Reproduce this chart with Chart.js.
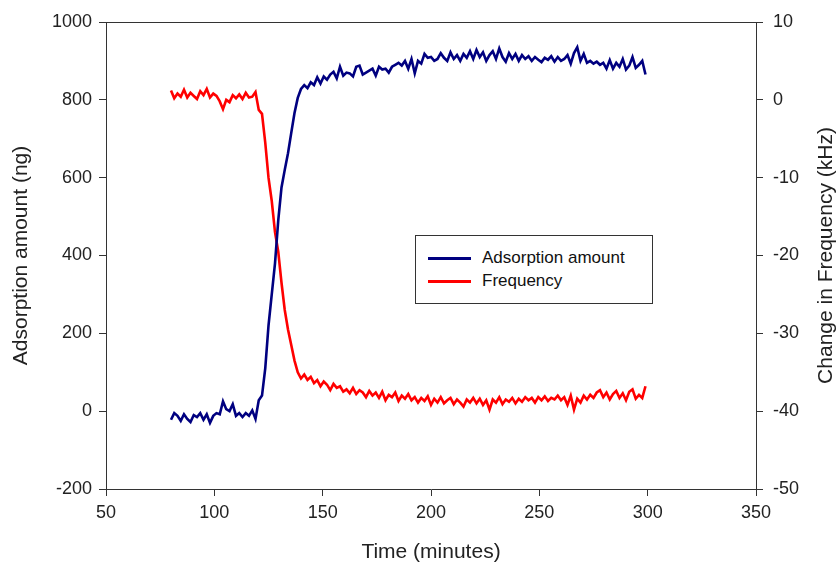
<!DOCTYPE html>
<html><head><meta charset="utf-8">
<script src="https://cdn.jsdelivr.net/npm/chart.js@4/dist/chart.umd.min.js"></script>
<style>
html,body{margin:0;padding:0;background:#fff;}
#wrap{position:relative;width:838px;height:565px;}
#legend{position:absolute;left:415px;top:235px;width:236px;height:67px;border:1px solid #333;background:#fff;font-family:"Liberation Sans",Arial,sans-serif;font-size:17px;color:#111;}
.row{position:absolute;left:0;width:236px;height:20px;line-height:20px;}
.sw{position:absolute;left:12px;top:9px;width:43px;height:3px;}
.lab{position:absolute;left:66px;top:0;white-space:nowrap;}
</style></head>
<body>
<div id="wrap">
<canvas id="c" width="838" height="565"></canvas>
<div id="legend">
  <div class="row" style="top:12px"><div class="sw" style="background:#000080"></div><div class="lab">Adsorption amount</div></div>
  <div class="row" style="top:35px"><div class="sw" style="background:#ff0000"></div><div class="lab">Frequency</div></div>
</div>
</div>
<script>
// Time (minutes)
const times = [
  80, 81.5, 83, 84.5, 86, 87.5, 89, 90.5, 92, 93.5,
  95, 96.5, 98, 99.5, 101, 102.5, 104, 105.5, 107, 108.5,
  110, 111.5, 113, 114.5, 116, 117.5, 119, 120.5, 122, 123.5,
  125, 126.5, 128, 129.5, 131, 132.5, 134, 135.5, 137, 138.5,
  140, 141.5, 143, 144.5, 146, 147.5, 149, 150.5, 152, 153.5,
  155, 156.5, 158, 159.5, 161, 162.5, 164, 165.5, 167, 168.5,
  170, 171.5, 173, 174.5, 176, 177.5, 179, 180.5, 182, 183.5,
  185, 186.5, 188, 189.5, 191, 192.5, 194, 195.5, 197, 198.5,
  200, 201.5, 203, 204.5, 206, 207.5, 209, 210.5, 212, 213.5,
  215, 216.5, 218, 219.5, 221, 222.5, 224, 225.5, 227, 228.5,
  230, 231.5, 233, 234.5, 236, 237.5, 239, 240.5, 242, 243.5,
  245, 246.5, 248, 249.5, 251, 252.5, 254, 255.5, 257, 258.5,
  260, 261.5, 263, 264.5, 266, 267.5, 269, 270.5, 272, 273.5,
  275, 276.5, 278, 279.5, 281, 282.5, 284, 285.5, 287, 288.5,
  290, 291.5, 293, 294.5, 296, 297.5, 299
];
// Adsorption amount (ng)
const adsorption = [
  -22, -5, -12, -25, -8, -20, -28, -10, -15, -5,
  -22, -8, -30, -12, -5, -8, 25, 5, 0, 18,
  -12, -5, -15, -5, -12, 2, -20, 28, 40, 110,
  220, 300, 380, 490, 575, 620, 663, 715, 766, 805,
  828, 838, 830, 845, 838, 858, 842, 860, 852, 865,
  872, 855, 885, 862, 870, 868, 860, 885, 888, 865,
  870, 875, 880, 862, 885, 878, 880, 870, 885, 890,
  895, 888, 900, 880, 905, 868, 900, 893, 918, 908,
  910, 900, 905, 920, 908, 900, 922, 905, 915, 900,
  918, 908, 925, 905, 928, 910, 922, 900, 915, 925,
  905, 932, 910, 898, 920, 905, 918, 900, 915, 905,
  912, 900, 910, 903, 897, 908, 903, 912, 898, 910,
  900, 905, 915, 893, 920, 935, 900, 918, 895, 900,
  893, 898, 890, 895, 880, 902, 880, 895, 885, 905,
  878, 888, 910, 882, 890, 900, 865
];
// Change in frequency (kHz)
const frequency = [
  1.2, 0.2, 0.8, 0.4, 1.3, 0.3, 0.9, 0.5, 0.1, 1.1,
  0.6, 1.4, 0.3, 0.8, 0.5, -0.2, -1.2, 0.0, -0.3, 0.6,
  0.2, 0.7, 0.1, 0.9, 0.3, 0.4, 1.0, -1.3, -1.8, -5.5,
  -10, -13, -17, -19.5, -23.5, -27, -29.5, -31.5, -33.5, -35,
  -35.8, -35.3, -36, -35.6, -36.4, -36.0, -36.8, -36.2, -36.6, -37.3,
  -36.5, -37.0, -36.8, -37.5, -37.2, -37.7, -37.0, -37.8, -37.3, -37.6,
  -38.2, -37.4, -38.0, -37.6, -38.3, -37.5, -38.6, -37.9, -38.2, -37.6,
  -38.7, -38.0, -38.4, -37.8, -38.6, -38.2, -38.9, -38.3, -38.7, -38.1,
  -39.2, -38.4, -38.9, -38.2, -39.0, -38.6, -38.3, -39.1, -38.5, -38.9,
  -39.4, -38.5, -38.9, -38.3, -39.0, -38.4, -39.2, -38.6, -39.8, -38.5,
  -38.9, -38.2, -39.1, -38.5, -38.8, -38.3, -39.0, -38.4, -38.8, -38.2,
  -38.6, -38.3, -38.9, -38.2, -38.6, -38.1, -38.7, -38.3, -38.5, -38.0,
  -38.6, -38.2, -39.2, -38.0, -39.8, -38.4, -38.9, -38.0, -38.5, -37.9,
  -38.3, -37.6, -37.3, -38.2, -37.6, -38.5, -37.8, -37.4, -38.3, -37.7,
  -38.6, -37.5, -37.2, -38.4, -37.9, -38.3, -36.8
];
const xTicks = [50, 100, 150, 200, 250, 300, 350];
const leftTicks = [-200, 0, 200, 400, 600, 800, 1000];
const rightTicks = [-50, -40, -30, -20, -10, 0, 10];
const rightTitle = 'Change in Frequency (kHz)';

const FONT = '"Liberation Sans", Arial, sans-serif';
const tickFont = {family: FONT, size: 18};
const titleFont = {family: FONT, size: 21};
const AX = '#333';
const plain = v => String(v);

const extras = {
  id: 'extras',
  afterDraw(chart) {
    const {ctx, chartArea: a} = chart;
    ctx.save();
    ctx.strokeStyle = AX; ctx.lineWidth = 1;
    ctx.beginPath();
    ctx.moveTo(a.left, a.top + 0.5); ctx.lineTo(a.right, a.top + 0.5);
    ctx.stroke();
    // right axis title, reading bottom-to-top like the left one
    ctx.translate(826, (a.top + a.bottom) / 2);
    ctx.rotate(-Math.PI / 2);
    ctx.font = '21px ' + FONT;
    ctx.fillStyle = '#222';
    ctx.textAlign = 'center';
    ctx.textBaseline = 'middle';
    ctx.fillText(rightTitle, 0, 0);
    ctx.restore();
  }
};

new Chart(document.getElementById('c'), {
  type: 'line',
  data: {
    datasets: [
      {
        label: 'Adsorption amount',
        data: times.map((t, i) => ({x: t, y: adsorption[i]})),
        borderColor: '#000080', borderWidth: 2.6, pointRadius: 0, tension: 0,
        yAxisID: 'y'
      },
      {
        label: 'Frequency',
        data: times.map((t, i) => ({x: t, y: frequency[i]})),
        borderColor: '#ff0000', borderWidth: 2.6, pointRadius: 0, tension: 0,
        yAxisID: 'y1'
      }
    ]
  },
  options: {
    responsive: false,
    animation: false,
    layout: {padding: {top: 22, left: 0, right: 0, bottom: 0}},
    plugins: {legend: {display: false}, tooltip: {enabled: false}},
    scales: {
      x: {
        type: 'linear', min: 50, max: 350,
        afterBuildTicks: s => { s.ticks = xTicks.map(v => ({value: v})); },
        afterFit: s => { s.height = 76; },
        ticks: {font: tickFont, color: '#222', padding: 6, maxRotation: 0, callback: plain},
        grid: {drawOnChartArea: false, tickLength: 7, color: AX},
        border: {color: AX, width: 1},
        title: {display: true, text: 'Time (minutes)', font: titleFont, color: '#222', padding: {top: 0, bottom: 0}}
      },
      y: {
        position: 'left', min: -200, max: 1000,
        afterBuildTicks: s => { s.ticks = leftTicks.map(v => ({value: v})); },
        afterFit: s => { s.width = 106; },
        ticks: {font: tickFont, color: '#222', padding: 7, callback: plain},
        grid: {drawOnChartArea: false, tickLength: 7, color: AX},
        border: {color: AX, width: 1},
        title: {display: true, text: 'Adsorption amount (ng)', font: titleFont, color: '#222', padding: {top: 9, bottom: 0}}
      },
      y1: {
        position: 'right', min: -50, max: 10,
        afterBuildTicks: s => { s.ticks = rightTicks.map(v => ({value: v})); },
        afterFit: s => { s.width = 82; },
        ticks: {font: tickFont, color: '#222', padding: 10, callback: plain},
        grid: {drawOnChartArea: false, tickLength: 7, color: AX},
        border: {color: AX, width: 1},
        title: {display: false}
      }
    }
  },
  plugins: [extras]
});
</script>
</body></html>
